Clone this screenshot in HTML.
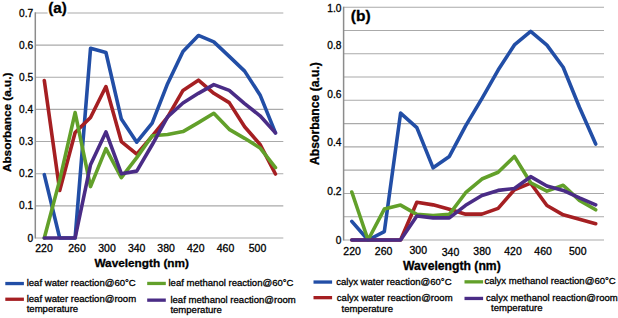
<!DOCTYPE html>
<html><head><meta charset="utf-8"><style>
html,body{margin:0;padding:0;background:#fff;width:618px;height:318px;overflow:hidden}
svg{position:absolute;left:0;top:0;font-family:"Liberation Sans",sans-serif;fill:#000}
text{stroke:#000;stroke-width:0.3px}
</style></head><body>
<svg width="618" height="318" viewBox="0 0 618 318">
<line x1="35.3" y1="205.85" x2="283.3" y2="205.85" stroke="#aaaaaa" stroke-width="1.1"/>
<line x1="35.3" y1="173.70" x2="283.3" y2="173.70" stroke="#aaaaaa" stroke-width="1.1"/>
<line x1="35.3" y1="141.55" x2="283.3" y2="141.55" stroke="#aaaaaa" stroke-width="1.1"/>
<line x1="35.3" y1="109.40" x2="283.3" y2="109.40" stroke="#aaaaaa" stroke-width="1.1"/>
<line x1="35.3" y1="77.25" x2="283.3" y2="77.25" stroke="#aaaaaa" stroke-width="1.1"/>
<line x1="35.3" y1="45.10" x2="283.3" y2="45.10" stroke="#aaaaaa" stroke-width="1.1"/>
<line x1="35.3" y1="12.95" x2="283.3" y2="12.95" stroke="#aaaaaa" stroke-width="1.1"/>
<line x1="35.3" y1="238.0" x2="283.3" y2="238.0" stroke="#aaaaaa" stroke-width="1.1"/>
<line x1="35.3" y1="12.3" x2="35.3" y2="238.5" stroke="#8c8c8c" stroke-width="1.5"/>
<line x1="343.6" y1="216.72" x2="604" y2="216.72" stroke="#aaaaaa" stroke-width="1.1"/>
<line x1="343.6" y1="193.44" x2="604" y2="193.44" stroke="#aaaaaa" stroke-width="1.1"/>
<line x1="343.6" y1="170.16" x2="604" y2="170.16" stroke="#aaaaaa" stroke-width="1.1"/>
<line x1="343.6" y1="146.88" x2="604" y2="146.88" stroke="#aaaaaa" stroke-width="1.1"/>
<line x1="343.6" y1="123.60" x2="604" y2="123.60" stroke="#aaaaaa" stroke-width="1.1"/>
<line x1="343.6" y1="100.32" x2="604" y2="100.32" stroke="#aaaaaa" stroke-width="1.1"/>
<line x1="343.6" y1="77.04" x2="604" y2="77.04" stroke="#aaaaaa" stroke-width="1.1"/>
<line x1="343.6" y1="53.76" x2="604" y2="53.76" stroke="#aaaaaa" stroke-width="1.1"/>
<line x1="343.6" y1="30.48" x2="604" y2="30.48" stroke="#aaaaaa" stroke-width="1.1"/>
<line x1="343.6" y1="7.20" x2="604" y2="7.20" stroke="#aaaaaa" stroke-width="1.1"/>
<line x1="343.6" y1="240.0" x2="604" y2="240.0" stroke="#aaaaaa" stroke-width="1.1"/>
<line x1="343.6" y1="6.7" x2="343.6" y2="240.5" stroke="#8c8c8c" stroke-width="1.5"/>
<rect x="47.6" y="9" width="19.8" height="8" fill="#fff"/>
<polyline points="44.30,174.66 59.71,238.00 75.12,238.00 90.53,48.31 105.94,52.49 121.35,119.05 136.76,142.19 152.17,123.22 167.58,83.68 182.99,51.53 198.40,35.46 213.81,41.88 229.22,56.35 244.63,71.14 260.04,94.93 275.45,132.87" fill="none" stroke="#224ea6" stroke-width="3.6" stroke-linejoin="round" stroke-linecap="round"/>
<polyline points="44.30,80.47 59.71,190.42 75.12,132.55 90.53,117.44 105.94,86.57 121.35,141.55 136.76,154.09 152.17,136.08 167.58,117.12 182.99,90.43 198.40,80.14 213.81,93.32 229.22,102.65 244.63,126.76 260.04,144.44 275.45,174.02" fill="none" stroke="#a51f22" stroke-width="3.6" stroke-linejoin="round" stroke-linecap="round"/>
<polyline points="44.30,238.00 59.71,180.13 75.12,112.61 90.53,186.56 105.94,148.62 121.35,177.56 136.76,157.62 152.17,135.76 167.58,134.48 182.99,131.58 198.40,122.58 213.81,113.26 229.22,129.33 244.63,138.33 260.04,147.98 275.45,167.59" fill="none" stroke="#62a02a" stroke-width="3.6" stroke-linejoin="round" stroke-linecap="round"/>
<polyline points="44.30,238.00 59.71,238.00 75.12,238.00 90.53,164.70 105.94,131.91 121.35,173.70 136.76,171.13 152.17,144.76 167.58,116.79 182.99,102.97 198.40,93.32 213.81,84.64 229.22,90.43 244.63,103.61 260.04,115.83 275.45,132.87" fill="none" stroke="#4a2c86" stroke-width="3.6" stroke-linejoin="round" stroke-linecap="round"/>
<polyline points="351.80,221.38 368.06,240.00 384.32,231.62 400.58,113.12 416.84,127.56 433.10,167.83 449.36,156.42 465.62,125.93 481.88,98.69 498.14,70.06 514.40,44.91 530.66,31.41 546.92,45.15 563.18,67.26 579.44,107.30 595.70,144.09" fill="none" stroke="#224ea6" stroke-width="3.6" stroke-linejoin="round" stroke-linecap="round"/>
<polyline points="351.80,240.00 368.06,240.00 384.32,240.00 400.58,240.00 416.84,202.29 433.10,204.85 449.36,209.27 465.62,214.16 481.88,214.16 498.14,208.34 514.40,189.72 530.66,183.20 546.92,205.55 563.18,214.86 579.44,219.28 595.70,223.70" fill="none" stroke="#a51f22" stroke-width="3.6" stroke-linejoin="round" stroke-linecap="round"/>
<polyline points="351.80,192.04 368.06,240.00 384.32,209.04 400.58,205.08 416.84,214.39 433.10,215.56 449.36,214.39 465.62,192.74 481.88,179.01 498.14,172.26 514.40,156.42 530.66,182.73 546.92,191.11 563.18,185.29 579.44,200.42 595.70,209.74" fill="none" stroke="#62a02a" stroke-width="3.6" stroke-linejoin="round" stroke-linecap="round"/>
<polyline points="351.80,240.00 368.06,240.00 384.32,240.00 400.58,240.00 416.84,216.02 433.10,217.88 449.36,217.88 465.62,205.31 481.88,195.54 498.14,190.41 514.40,188.55 530.66,176.68 546.92,185.99 563.18,190.41 579.44,197.86 595.70,204.85" fill="none" stroke="#4a2c86" stroke-width="3.6" stroke-linejoin="round" stroke-linecap="round"/>
<text x="33.2" y="241.50" font-size="10.2" text-anchor="end" font-weight="normal" >0</text>
<text x="33.2" y="209.40" font-size="10.2" text-anchor="end" font-weight="normal" >0.1</text>
<text x="33.2" y="177.30" font-size="10.2" text-anchor="end" font-weight="normal" >0.2</text>
<text x="33.2" y="145.20" font-size="10.2" text-anchor="end" font-weight="normal" >0.3</text>
<text x="33.2" y="113.10" font-size="10.2" text-anchor="end" font-weight="normal" >0.4</text>
<text x="33.2" y="81.00" font-size="10.2" text-anchor="end" font-weight="normal" >0.5</text>
<text x="33.2" y="48.90" font-size="10.2" text-anchor="end" font-weight="normal" >0.6</text>
<text x="33.2" y="16.80" font-size="10.2" text-anchor="end" font-weight="normal" >0.7</text>
<text x="341.5" y="12.20" font-size="10.2" text-anchor="end" font-weight="normal" >1.0</text>
<text x="341.5" y="48.80" font-size="10.2" text-anchor="end" font-weight="normal" >0.8</text>
<text x="341.5" y="97.90" font-size="10.2" text-anchor="end" font-weight="normal" >0.6</text>
<text x="341.5" y="146.30" font-size="10.2" text-anchor="end" font-weight="normal" >0.4</text>
<text x="341.5" y="195.40" font-size="10.2" text-anchor="end" font-weight="normal" >0.2</text>
<text x="341.5" y="243.80" font-size="10.2" text-anchor="end" font-weight="normal" >0</text>
<text x="44" y="252.4" font-size="10.5" text-anchor="middle" font-weight="normal" >220</text>
<text x="77" y="252.4" font-size="10.5" text-anchor="middle" font-weight="normal" >260</text>
<text x="107" y="252.4" font-size="10.5" text-anchor="middle" font-weight="normal" >300</text>
<text x="136.7" y="252.4" font-size="10.5" text-anchor="middle" font-weight="normal" >340</text>
<text x="166.1" y="252.4" font-size="10.5" text-anchor="middle" font-weight="normal" >380</text>
<text x="195.8" y="252.4" font-size="10.5" text-anchor="middle" font-weight="normal" >420</text>
<text x="225.5" y="252.4" font-size="10.5" text-anchor="middle" font-weight="normal" >460</text>
<text x="257.5" y="252.4" font-size="10.5" text-anchor="middle" font-weight="normal" >500</text>
<text x="352.1" y="254.7" font-size="10.5" text-anchor="middle" font-weight="normal" >220</text>
<text x="383.6" y="254.7" font-size="10.5" text-anchor="middle" font-weight="normal" >260</text>
<text x="418.3" y="254.2" font-size="10.5" text-anchor="middle" font-weight="normal" >300</text>
<text x="450.5" y="256.0" font-size="10.5" text-anchor="middle" font-weight="normal" >340</text>
<text x="482.1" y="254.9" font-size="10.5" text-anchor="middle" font-weight="normal" >380</text>
<text x="513" y="255" font-size="10.5" text-anchor="middle" font-weight="normal" >420</text>
<text x="543.1" y="254.7" font-size="10.5" text-anchor="middle" font-weight="normal" >460</text>
<text x="577.8" y="254.7" font-size="10.5" text-anchor="middle" font-weight="normal" >500</text>
<text x="141.7" y="266.6" font-size="11.8" text-anchor="middle" font-weight="bold" >Wavelength (nm)</text>
<text x="451.9" y="270.1" font-size="12.2" text-anchor="middle" font-weight="bold" >Wavelength (nm)</text>
<text x="0" y="0" font-size="11.8" text-anchor="middle" font-weight="bold" transform="translate(10.6,122.3) rotate(-90)">Absorbance (a.u.)</text>
<text x="0" y="0" font-size="12.2" text-anchor="middle" font-weight="bold" transform="translate(318.6,113.6) rotate(-90)">Absorbance (a.u.)</text>
<text x="57.5" y="13.3" font-size="15.2" text-anchor="middle" font-weight="bold" >(a)</text>
<text x="360.7" y="20.9" font-size="15.5" text-anchor="middle" font-weight="bold" >(b)</text>
<rect x="5.3" y="281.9" width="18.6" height="3.3" fill="#224ea6"/>
<text x="26.7" y="286.1" font-size="9.55" text-anchor="start" font-weight="normal" >leaf water reaction@60°C</text>
<rect x="5.3" y="297.6" width="18.6" height="3.3" fill="#a51f22"/>
<text x="26.7" y="302.4" font-size="9.55" text-anchor="start" font-weight="normal" >leaf water reaction@room</text>
<text x="26.7" y="312.4" font-size="9.55" text-anchor="start" font-weight="normal" >temperature</text>
<rect x="147.2" y="281.8" width="18.6" height="3.3" fill="#62a02a"/>
<text x="168.5" y="286.0" font-size="9.55" text-anchor="start" font-weight="normal" >leaf methanol reaction@60°C</text>
<rect x="147.2" y="298.5" width="18.6" height="3.3" fill="#4a2c86"/>
<text x="170.4" y="302.5" font-size="9.55" text-anchor="start" font-weight="normal" >leaf methanol reaction@room</text>
<text x="170.4" y="312.7" font-size="9.55" text-anchor="start" font-weight="normal" >temperature</text>
<rect x="313.5" y="280.4" width="18.6" height="3.3" fill="#224ea6"/>
<text x="336.2" y="285" font-size="9.55" text-anchor="start" font-weight="normal" >calyx water reaction@60°C</text>
<rect x="313.5" y="296.0" width="18.6" height="3.3" fill="#a51f22"/>
<text x="336.8" y="301" font-size="9.55" text-anchor="start" font-weight="normal" >calyx water reaction@room</text>
<text x="341.6" y="312.2" font-size="9.55" text-anchor="start" font-weight="normal" >temperature</text>
<rect x="464.5" y="280.2" width="18.6" height="3.3" fill="#62a02a"/>
<text x="484.4" y="283.8" font-size="9.55" text-anchor="start" font-weight="normal" >calyx methanol reaction@60°C</text>
<rect x="464.5" y="296.8" width="18.6" height="3.3" fill="#4a2c86"/>
<text x="486" y="300.9" font-size="9.55" text-anchor="start" font-weight="normal" >calyx methanol reaction@room</text>
<text x="491.1" y="311.4" font-size="9.55" text-anchor="start" font-weight="normal" >temperature</text>
</svg>
</body></html>
